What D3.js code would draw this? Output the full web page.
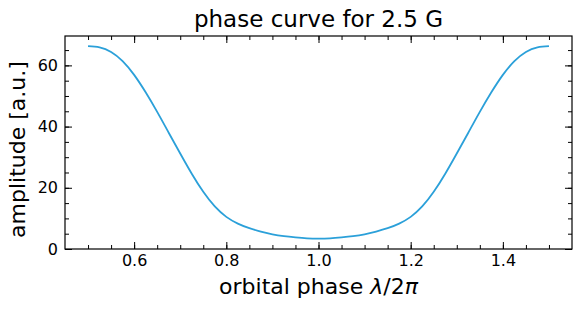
<!DOCTYPE html>
<html>
<head>
<meta charset="utf-8">
<script src="https://cdn.jsdelivr.net/npm/d3@7"></script>
<style>
  body { margin: 0; background: white; }
  text { font-family: "DejaVu Sans", sans-serif; fill: black; }
</style>
</head>
<body>
<div id="chart-1"></div>
<script>
// phase values and amplitude
var phases = [0.5, 0.525, 0.55, 0.575, 0.6, 0.625, 0.65, 0.675, 0.7, 0.725, 0.75, 0.775, 0.8,
  0.825, 0.85, 0.875, 0.9, 0.925, 0.95, 0.975, 1.0,
  1.025, 1.05, 1.075, 1.1, 1.125, 1.15, 1.175, 1.2, 1.225, 1.25, 1.275, 1.3,
  1.325, 1.35, 1.375, 1.4, 1.425, 1.45, 1.475, 1.5];
var amplitudes = [66.3, 65.9, 64.4, 61.4, 56.9, 51.2, 44.8, 38.0, 31.2, 24.6, 18.7, 13.9, 10.5,
  8.3, 6.8, 5.7, 4.8, 4.2, 3.8, 3.5, 3.4,
  3.5, 3.8, 4.2, 4.8, 5.7, 6.8, 8.3, 10.5, 13.9, 18.7, 24.6, 31.2,
  38.0, 44.8, 51.2, 56.9, 61.4, 64.4, 65.9, 66.3];
var xTicks = [0.6, 0.8, 1.0, 1.2, 1.4];
var yTicks = [0, 20, 40, 60];

(function() {
  var margin = { top: 36, left: 65, right: 9, bottom: 62 },
  width = 581 - margin.left - margin.right,
  height = 311 - margin.top - margin.bottom;

  var svg = d3.select("#chart-1")
    .append("svg")
    .attr("width", width + margin.left + margin.right)
    .attr("height", height + margin.top + margin.bottom)
    .append("g")
    .attr("transform", "translate(" + margin.left + "," + margin.top + ")");

  var datapoints = phases.map(function(p, i) {
    return { phase: p, amp: amplitudes[i] };
  });

  var xPositionScale = d3.scaleLinear()
    .domain([0.45, 1.55])
    .range([0, width]);

  var yPositionScale = d3.scaleLinear()
    .domain([0, 69.6])
    .range([height, 0]);

  var line = d3.line()
    .x(function(d) { return xPositionScale(d.phase); })
    .y(function(d) { return yPositionScale(d.amp); })
    .curve(d3.curveNatural);

  svg.append("path")
    .datum(datapoints)
    .attr("d", line)
    .attr("fill", "none")
    .attr("stroke", "#2ba0d9")
    .attr("stroke-width", 1.8);

  // minor ticks every 0.05 / 5
  var xMinor = d3.range(0.5, 1.55, 0.05);
  var yMinor = d3.range(5, 69, 5);

  function styleAxis(g) {
    g.select(".domain").remove();
    g.selectAll("line").attr("stroke", "black").attr("stroke-width", 1);
  }

  // ticks inside, on all four sides
  svg.append("g")
    .attr("transform", "translate(0," + height + ")")
    .call(d3.axisBottom(xPositionScale).tickValues(xTicks).tickSize(-7).tickPadding(5.5)
      .tickFormat(d3.format(".1f")))
    .call(styleAxis)
    .selectAll("text").attr("font-size", 16);

  svg.append("g")
    .attr("transform", "translate(0," + height + ")")
    .call(d3.axisBottom(xPositionScale).tickValues(xMinor).tickSize(-4).tickFormat(""))
    .call(styleAxis);

  svg.append("g")
    .call(d3.axisTop(xPositionScale).tickValues(xTicks).tickSize(-7).tickFormat(""))
    .call(styleAxis);

  svg.append("g")
    .call(d3.axisTop(xPositionScale).tickValues(xMinor).tickSize(-4).tickFormat(""))
    .call(styleAxis);

  svg.append("g")
    .call(d3.axisLeft(yPositionScale).tickValues(yTicks).tickSize(-7).tickPadding(7))
    .call(styleAxis)
    .selectAll("text").attr("font-size", 16);

  svg.append("g")
    .call(d3.axisLeft(yPositionScale).tickValues(yMinor).tickSize(-4).tickFormat(""))
    .call(styleAxis);

  svg.append("g")
    .attr("transform", "translate(" + width + ",0)")
    .call(d3.axisRight(yPositionScale).tickValues(yTicks).tickSize(-7).tickFormat(""))
    .call(styleAxis);

  svg.append("g")
    .attr("transform", "translate(" + width + ",0)")
    .call(d3.axisRight(yPositionScale).tickValues(yMinor).tickSize(-4).tickFormat(""))
    .call(styleAxis);

  // frame
  svg.append("rect")
    .attr("width", width)
    .attr("height", height)
    .attr("fill", "none")
    .attr("stroke", "black")
    .attr("stroke-width", 1.2);

  // title
  svg.append("text")
    .attr("x", width / 2)
    .attr("y", -9)
    .attr("text-anchor", "middle")
    .attr("font-size", 23)
    .text("phase curve for 2.5 G");

  // x label with italic lambda and pi
  var xLabel = svg.append("text")
    .attr("x", width / 2)
    .attr("y", height + 45)
    .attr("text-anchor", "middle")
    .attr("font-size", 22);
  xLabel.append("tspan").text("orbital phase ");
  xLabel.append("tspan").attr("font-style", "italic").text("λ");
  xLabel.append("tspan").text("/2");
  xLabel.append("tspan").attr("font-style", "italic").text("π");

  svg.append("text")
    .attr("transform", "translate(-40," + (height / 2 + 7) + ") rotate(-90)")
    .attr("text-anchor", "middle")
    .attr("font-size", 22)
    .text("amplitude [a.u.]");
})();
</script>
</body>
</html>
